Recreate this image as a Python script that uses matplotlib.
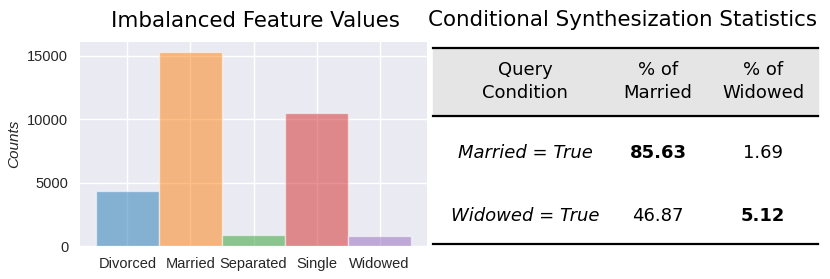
import matplotlib.pyplot as plt
from matplotlib.patches import Rectangle

categories = ['Divorced', 'Married', 'Separated', 'Single', 'Widowed']
counts = [4300, 15300, 880, 10500, 800]
bar_colors = ['#1f77b4', '#ff7f0e', '#2ca02c', '#d62728', '#9467bd']

col_headers = [['Query', 'Condition'], ['% of', 'Married'], ['% of', 'Widowed']]
row_conditions = ['Married = True', 'Widowed = True']
pct_married = ['85.63', '46.87']
pct_widowed = ['1.69', '5.12']
bold_cells = [(0, 1), (1, 2)]

W, H = 830, 279
fig = plt.figure(figsize=(W / 100, H / 100), dpi=100)

# bar chart
ax = fig.add_axes([80 / W, 1 - 246 / H, 347 / W, 204 / H])
ax.set_facecolor('#eaeaf2')
ax.set_axisbelow(True)
ax.grid(True, color='white', linewidth=1)
xs = list(range(len(categories)))
ax.bar(xs, counts, width=1.0, color=bar_colors, alpha=0.5, edgecolor='white', linewidth=1)
ax.set_xlim(-0.75, 4.75)
ax.set_ylim(0, 16070)
ax.set_xticks(xs)
ax.set_xticklabels(categories, fontsize=10.5, color='#262626', family='Liberation Sans')
ax.set_yticks([0, 5000, 10000, 15000])
ax.set_yticklabels(['0', '5000', '10000', '15000'], fontsize=10.5, color='#262626', family='Liberation Sans')
ax.tick_params(axis='y', length=0, pad=8.5)
ax.tick_params(axis='x', length=0, pad=8)
ax.set_ylabel('Counts', fontsize=11, style='italic', family='Liberation Sans', color='#262626', labelpad=4)
for s in ax.spines.values():
    s.set_visible(False)
fig.text(255 / W, 1 - 21 / H, 'Imbalanced Feature Values', fontsize=15.4, family='DejaVu Sans',
         ha='center', va='center')

# table, drawn in pixel coordinates
tx = fig.add_axes([0, 0, 1, 1])
tx.set_xlim(0, W)
tx.set_ylim(H, 0)
tx.axis('off')
tx.patch.set_alpha(0)

fig.text(623 / W, 1 - 20 / H, 'Conditional Synthesization Statistics', fontsize=15.4, family='DejaVu Sans',
         ha='center', va='center')

left, right = 433, 818
tx.add_patch(Rectangle((left, 48), right - left, 68, color='#e5e5e5', zorder=0))
tx.plot([left, right], [48, 48], color='black', linewidth=1.6)
tx.plot([left, right], [116, 116], color='black', linewidth=1.6)
tx.plot([left, right], [244, 244], color='black', linewidth=1.6)

col_x = [525, 658, 763]
for cx, (l1, l2) in zip(col_x, col_headers):
    tx.text(cx, 70, l1, fontsize=13, family='DejaVu Sans', ha='center', va='center')
    tx.text(cx, 93, l2, fontsize=13, family='DejaVu Sans', ha='center', va='center')

row_y = [153, 216]
for i, y in enumerate(row_y):
    tx.text(col_x[0], y, row_conditions[i], fontsize=13, style='italic',
            family='DejaVu Sans', ha='center', va='center')
    for j, val in enumerate([pct_married[i], pct_widowed[i]], start=1):
        weight = 'bold' if (i, j) in bold_cells else 'normal'
        tx.text(col_x[j], y, val, fontsize=13, weight=weight, family='DejaVu Sans',
                ha='center', va='center')

fig.savefig('out.png', dpi=100)
